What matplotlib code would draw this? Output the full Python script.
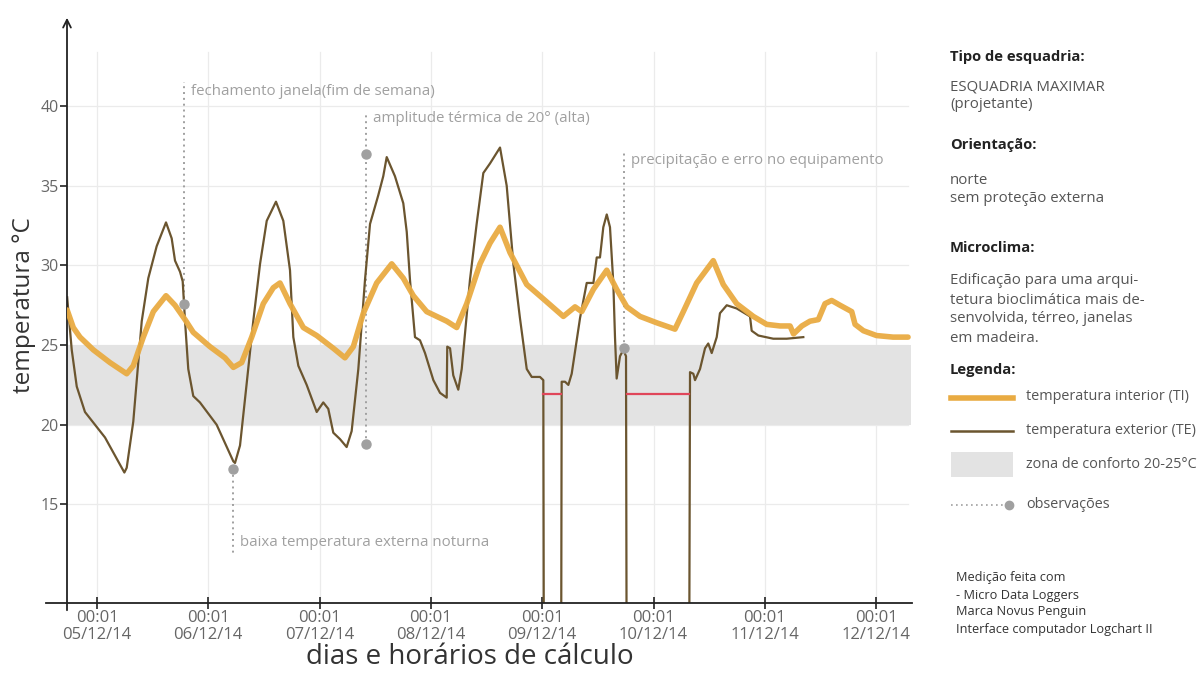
import matplotlib
matplotlib.use("Agg")
import matplotlib.pyplot as plt
from matplotlib.patches import Rectangle

plt.rcParams['font.family'] = ['Open Sans', 'DejaVu Sans']

# Data (days from 05/12/14 00:01, temperature in °C)

te_days = [-0.268, -0.227, -0.182, -0.108, 0.072, 0.246, 0.267, 0.326, 0.402, 0.461,
           0.536, 0.620, 0.671, 0.701, 0.746, 0.770, 0.791, 0.820, 0.865, 0.925,
           1.075, 1.225, 1.240, 1.285, 1.345, 1.404, 1.465, 1.525, 1.608, 1.674,
           1.734, 1.764, 1.809, 1.884, 1.974, 2.033, 2.078, 2.123, 2.183, 2.243,
           2.288, 2.348, 2.408, 2.453, 2.527, 2.572, 2.603, 2.677, 2.752, 2.783,
           2.812, 2.857, 2.902, 2.947, 3.022, 3.082, 3.142, 3.147, 3.172, 3.201,
           3.246, 3.277, 3.351, 3.411, 3.471, 3.531, 3.621, 3.681, 3.741, 3.800,
           3.861, 3.906, 3.980, 4.010, 4.016, 4.169, 4.175, 4.205, 4.235, 4.265,
           4.340, 4.400, 4.460, 4.490, 4.519, 4.549, 4.580, 4.609, 4.639, 4.654,
           4.669, 4.699, 4.729, 4.753, 4.760, 5.319, 5.328, 5.358, 5.373, 5.418,
           5.463, 5.492, 5.523, 5.568, 5.597, 5.658, 5.747, 5.867, 5.882, 5.942,
           6.076, 6.197, 6.346]
te_temp = [28.0, 24.7, 22.4, 20.8, 19.2, 17.0, 17.3, 20.2, 26.5, 29.2,
           31.2, 32.7, 31.7, 30.3, 29.6, 29.0, 26.5, 23.5, 21.8, 21.4,
           20.0, 17.7, 17.6, 18.7, 22.6, 26.5, 30.1, 32.8, 34.0, 32.8,
           29.7, 25.5, 23.7, 22.5, 20.8, 21.4, 21.0, 19.5, 19.1, 18.6,
           19.6, 23.5, 29.1, 32.6, 34.4, 35.6, 36.8, 35.6, 33.9, 32.1,
           29.1, 25.5, 25.3, 24.5, 22.8, 22.0, 21.7, 24.9, 24.8, 23.1,
           22.2, 23.5, 29.1, 32.6, 35.8, 36.4, 37.4, 35.0, 30.1, 26.7,
           23.5, 23.0, 23.0, 22.8, 0.0, 0.0, 22.7, 22.7, 22.5, 23.2,
           26.7, 28.9, 28.9, 30.5, 30.5, 32.4, 33.2, 32.4, 28.9, 25.5,
           22.9, 24.3, 24.7, 24.3, 0.0, 0.0, 23.3, 23.2, 22.8, 23.5,
           24.8, 25.1, 24.5, 25.5, 27.0, 27.5, 27.3, 26.8, 25.9, 25.6,
           25.4, 25.4, 25.5]

ti_days = [-0.268, -0.213, -0.153, -0.033, 0.117, 0.267, 0.326, 0.416, 0.506, 0.620,
           0.701, 0.791, 0.865, 1.015, 1.150, 1.225, 1.300, 1.390, 1.494, 1.584,
           1.644, 1.734, 1.854, 1.974, 2.123, 2.228, 2.303, 2.393, 2.513, 2.648,
           2.752, 2.842, 2.962, 3.082, 3.142, 3.232, 3.322, 3.441, 3.531, 3.621,
           3.711, 3.861, 4.010, 4.190, 4.295, 4.355, 4.460, 4.580, 4.669, 4.760,
           4.879, 5.029, 5.193, 5.268, 5.388, 5.537, 5.627, 5.747, 5.897, 6.017,
           6.137, 6.227, 6.258, 6.333, 6.406, 6.481, 6.541, 6.601, 6.676, 6.781,
           6.811, 6.886, 7.003, 7.152, 7.287]
ti_temp = [27.2, 26.1, 25.5, 24.7, 23.9, 23.2, 23.7, 25.5, 27.1, 28.1,
           27.5, 26.6, 25.8, 24.9, 24.2, 23.6, 23.9, 25.5, 27.6, 28.6,
           28.9, 27.6, 26.1, 25.6, 24.8, 24.2, 24.9, 27.0, 28.9, 30.1,
           29.2, 28.1, 27.1, 26.7, 26.5, 26.1, 27.6, 30.1, 31.4, 32.4,
           30.8, 28.8, 27.9, 26.8, 27.4, 27.1, 28.5, 29.7, 28.5, 27.4,
           26.8, 26.4, 26.0, 27.1, 28.9, 30.3, 28.8, 27.6, 26.8, 26.3,
           26.2, 26.2, 25.7, 26.2, 26.5, 26.6, 27.6, 27.8, 27.5, 27.1,
           26.3, 25.9, 25.6, 25.5, 25.5]

# equipment error periods
err_start = [4.007, 4.762]
err_end = [4.169, 5.319]
err_level = 21.9

# observations
obs_days = [0.784, 1.218, 2.417, 4.735]
obs_dot = [27.6, 17.2, 18.8, 24.8]
obs_line_end = [41.5, 11.8, 39.6, 37.1]
obs_text = ["fechamento janela(fim de semana)",
            "baixa temperatura externa noturna",
            "amplitude térmica de 20° (alta)",
            "precipitação e erro no equipamento"]
obs_text_y = [40.9, 12.6, 39.2, 36.6]
amp_top_dot = 37.0

day_ticks = [0, 1, 2, 3, 4, 5, 6, 7]
day_labels = ["05/12/14", "06/12/14", "07/12/14", "08/12/14",
              "09/12/14", "10/12/14", "11/12/14", "12/12/14"]
y_ticks = [15, 20, 25, 30, 35, 40]

# Colors
c_ti = "#E9AB42"
c_te = "#6B552F"
c_band = "#E3E3E3"
c_grid = "#EBEBEB"
c_obs = "#A0A0A0"
c_red = "#E0465A"

fig = plt.figure(figsize=(12.04, 6.73), dpi=100)
ax = fig.add_axes([67 / 1204, 70 / 673, 845 / 1204, 588 / 673])

x_min, x_max = -0.2695, 7.3225
y_min, y_max = 8.81, 45.72
ax.set_xlim(x_min, x_max)
ax.set_ylim(y_min, y_max)

# grid and comfort zone
for yt in y_ticks:
    ax.plot([x_min, 7.29], [yt, yt], color=c_grid, lw=0.9, zorder=0)
for d in day_ticks:
    ax.plot([d, d], [y_min, 43.4], color=c_grid, lw=0.9, zorder=0)
ax.axhspan(20, 25, xmin=0, xmax=(7.31 - x_min) / (x_max - x_min), color=c_band, lw=0, zorder=0.5)

# observation lines
for i in range(len(obs_days)):
    ax.plot([obs_days[i], obs_days[i]], [obs_dot[i], obs_line_end[i]],
            color=c_obs, lw=1.4, ls=(0, (1, 2.0)), zorder=1)
    ax.plot(obs_days[i], obs_dot[i], 'o', color=c_obs, ms=6.5, zorder=5)
    ax.text(obs_days[i] + 0.065, obs_text_y[i], obs_text[i], color=c_obs,
            fontsize=10.8, va='center', ha='left')
ax.plot(obs_days[2], amp_top_dot, 'o', color=c_obs, ms=6.5, zorder=5)

# series
ax.plot(te_days, te_temp, color=c_te, lw=1.6, zorder=3,
        solid_joinstyle='round')
ax.plot(ti_days, ti_temp, color=c_ti, lw=4.0, alpha=0.95, zorder=4,
        solid_joinstyle='round', solid_capstyle='round')
for s, e in zip(err_start, err_end):
    ax.plot([s, e], [err_level, err_level], color=c_red, lw=1.6, zorder=3.5)

# axes
for sp in ax.spines.values():
    sp.set_visible(False)
ax.annotate('', xy=(0, 1.0), xytext=(0, -0.017), xycoords='axes fraction',
            arrowprops=dict(arrowstyle='->', lw=1.3, color='#222222',
                            mutation_scale=14))
ax.plot([-0.025, 1.0], [0, 0], color='#222222', lw=1.3, transform=ax.transAxes,
        clip_on=False, zorder=6)

ax.set_xticks(day_ticks)
ax.set_xticklabels(["00:01\n" + lb for lb in day_labels])
ax.set_yticks(y_ticks)
ax.tick_params(axis='x', direction='inout', length=8, width=1.2, color='#222222',
               labelcolor='#666666', labelsize=12, pad=1)
ax.tick_params(axis='y', direction='out', length=5, width=1.2, color='#222222',
               labelcolor='#666666', labelsize=11.5, pad=1)
for lb in ax.get_xticklabels():
    lb.set_linespacing(1.1)

fig.text(24 / 1204, 1 - 305 / 673, "temperatura °C", rotation=90, fontsize=17.5,
         color='#333333', ha='center', va='center')
fig.text(470 / 1204, 1 - 657 / 673, "dias e horários de cálculo", fontsize=20,
         color='#333333', ha='center', va='center')

# side panel (pixel coordinates)
side = fig.add_axes([0, 0, 1, 1], facecolor='none')
side.set_xlim(0, 1204)
side.set_ylim(673, 0)
side.axis('off')

heads = [("Tipo de esquadria:", 57), ("Orientação:", 145), ("Microclima:", 248), ("Legenda:", 370)]
for txt, yy in heads:
    side.text(950, yy, txt, fontsize=10.6, fontweight='bold', color='#222222', va='center')

body = [("ESQUADRIA MAXIMAR", 87), ("(projetante)", 105), ("norte", 180),
        ("sem proteção externa", 198), ("Edificação para uma arqui-", 281),
        ("tetura bioclimática mais de-", 300), ("senvolvida, térreo, janelas", 319),
        ("em madeira.", 339)]
for txt, yy in body:
    side.text(950, yy, txt, fontsize=10.8, color='#555555', va='center')

side.plot([951, 1013], [398, 398], color=c_ti, lw=4.0)
side.text(1026, 397, "temperatura interior (TI)", fontsize=10.4, color='#555555', va='center')
side.plot([951, 1013], [431, 431], color=c_te, lw=1.8)
side.text(1026, 430, "temperatura exterior (TE)", fontsize=10.4, color='#555555', va='center')
side.add_patch(Rectangle((951, 452), 62, 25, color=c_band, lw=0))
side.text(1026, 464, "zona de conforto 20-25°C", fontsize=10.4, color='#555555', va='center')
side.plot([951, 1005], [505, 505], color=c_obs, lw=1.2, ls=(0, (1, 2)))
side.plot(1009, 505, 'o', color=c_obs, ms=6)
side.text(1026, 504, "observações", fontsize=10.4, color='#555555', va='center')

notes = [("Medição feita com", 578), ("- Micro Data Loggers", 595),
         ("Marca Novus Penguin", 612), ("Interface computador Logchart II", 630)]
for txt, yy in notes:
    side.text(956, yy, txt, fontsize=9.2, color='#333333', va='center')

fig.savefig("out.png", dpi=100)
